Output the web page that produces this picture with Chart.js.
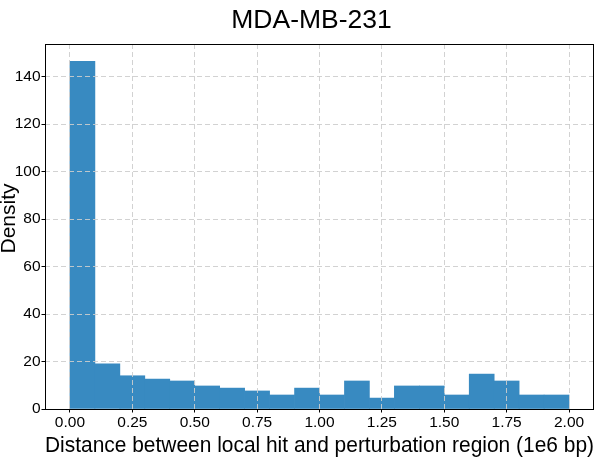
<!DOCTYPE html>
<html>
<head>
<meta charset="utf-8">
<script src="https://cdn.jsdelivr.net/npm/chart.js@4/dist/chart.umd.min.js"></script>
<style>
  html, body { margin: 0; padding: 0; background: #fff; }
  #wrap { width: 605px; height: 459px; }
</style>
</head>
<body>
<div id="wrap"><canvas id="c" width="605" height="459"></canvas></div>
<script>
// Histogram bins (width 0.1, in units of 1e6 bp) and their densities
const binCenters = [0.05, 0.15, 0.25, 0.35, 0.45, 0.55, 0.65, 0.75, 0.85, 0.95,
                    1.05, 1.15, 1.25, 1.35, 1.45, 1.55, 1.65, 1.75, 1.85, 1.95];
const densities = [146.4, 19.0, 14.0, 12.6, 11.8, 9.7, 8.8, 7.6, 5.9, 8.8,
                   5.9, 11.8, 4.6, 9.7, 9.7, 5.9, 14.7, 11.8, 5.9, 5.9];
const binWidth = 0.1;
const xTicks = [0.0, 0.25, 0.5, 0.75, 1.0, 1.25, 1.5, 1.75, 2.0];
const yTicks = [0, 20, 40, 60, 80, 100, 120, 140];
const chartTitle = 'MDA-MB-231';
const yLabel = 'Density';

const FONT = "'Liberation Sans', Arial, sans-serif";
const gridColor = 'rgba(205,205,205,0.9)';

// Black frame around the plotting area, the heading above it and the y label
const frame = {
  id: 'frame',
  afterDraw(chart) {
    const a = chart.chartArea, ctx = chart.ctx;
    ctx.save();
    ctx.strokeStyle = '#000';
    ctx.lineWidth = 1;
    ctx.strokeRect(Math.round(a.left) + 0.5, Math.round(a.top) + 0.5,
                   Math.round(a.right - a.left) - 1, Math.round(a.bottom - a.top));
    ctx.fillStyle = '#000';
    ctx.font = '26.5px ' + FONT;
    ctx.textAlign = 'center';
    ctx.textBaseline = 'alphabetic';
    ctx.fillText(chartTitle, (a.left + a.right) / 2 - 8, 27.5);

    ctx.font = '21px ' + FONT;
    ctx.textBaseline = 'middle';
    ctx.translate(9.5, (a.top + a.bottom) / 2 - 8);
    ctx.rotate(-Math.PI / 2);
    ctx.fillText(yLabel, 0, 0);
    ctx.restore();
  }
};

new Chart(document.getElementById('c'), {
  type: 'bar',
  data: {
    datasets: [{
      data: binCenters.map((x, i) => ({ x: x, y: densities[i] })),
      backgroundColor: 'rgb(56,138,193)',
      borderWidth: 0,
      barPercentage: 1.0,
      categoryPercentage: 1.0
    }]
  },
  options: {
    responsive: false,
    animation: false,
    layout: { padding: { left: 0, right: 11, top: 44, bottom: 0 } },
    plugins: {
      legend: { display: false },
      tooltip: { enabled: false },
      title: { display: false }
    },
    scales: {
      x: {
        type: 'linear',
        min: -binWidth,
        max: 2.0 + binWidth,
        offset: false,
        afterBuildTicks: s => { s.ticks = xTicks.map(v => ({ value: v })); },
        afterFit: s => { s.height = 50; },
        ticks: {
          color: '#000',
          font: { family: FONT, size: 15.5 },
          padding: 1,
          maxRotation: 0,
          autoSkip: false,
          callback: v => Number(v).toFixed(2)
        },
        grid: {
          color: gridColor,
          lineWidth: 1,
          offset: false,
          z: 1,
          tickLength: 3.5,
          tickColor: '#000'
        },
        border: { display: false, dash: [5, 3] },
        title: {
          display: true,
          text: 'Distance between local hit and perturbation region (1e6 bp)',
          color: '#000',
          font: { family: FONT, size: 21.3 },
          padding: { top: 0, bottom: 0 }
        }
      },
      y: {
        min: 0,
        max: 153.7,
        afterBuildTicks: s => { s.ticks = yTicks.map(v => ({ value: v })); },
        afterFit: s => { s.width = 45; },
        ticks: {
          color: '#000',
          font: { family: FONT, size: 15.5 },
          padding: 1
        },
        grid: {
          color: gridColor,
          lineWidth: 1,
          z: 1,
          tickLength: 3.5,
          tickColor: '#000'
        },
        border: { display: false, dash: [5, 3] },
        title: { display: false }
      }
    }
  },
  plugins: [frame]
});
</script>
</body>
</html>
